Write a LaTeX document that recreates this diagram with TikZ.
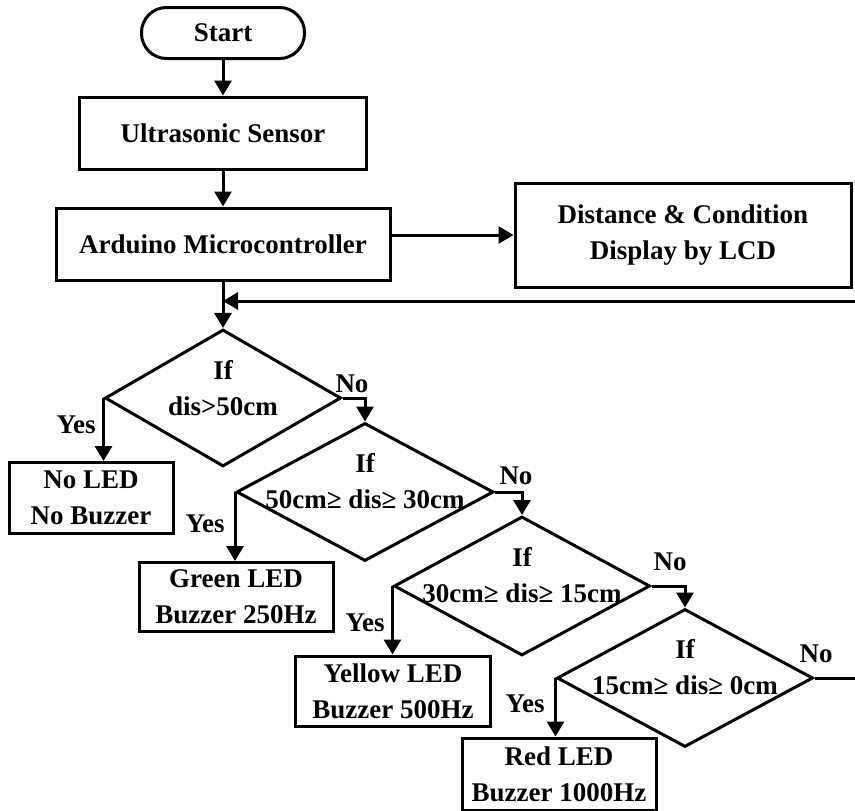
\documentclass[tikz,border=0pt]{standalone}
\usepackage{fontspec}
\setmainfont{Liberation Serif}
\usetikzlibrary{arrows.meta,shapes.geometric}

\begin{document}
\begin{tikzpicture}[x=1pt,y=-1pt,
    every node/.style={font=\fontsize{27}{36}\selectfont\bfseries},
    proc/.style={draw,line width=3pt,rectangle,align=center,inner sep=0pt},
    term/.style={proc,rounded corners=25pt},
    dec/.style={draw,line width=3pt,diamond,inner sep=0pt},
    dtext/.style={align=center,inner sep=0pt},
    arr/.style={line width=3pt,-{Triangle[length=15pt,width=17pt]}},
    lin/.style={line width=3pt}]
    \useasboundingbox (0,0) rectangle (855,811);

    % bloques de arriba
    \node[term,minimum width=163pt,minimum height=51pt] (start) at (223,33) {Start};
    \node[proc,minimum width=287pt,minimum height=72pt] (sensor) at (223,133) {Ultrasonic Sensor};
    \node[proc,minimum width=334pt,minimum height=72pt] (ard) at (223,244) {Arduino Microcontroller};
    \node[proc,minimum width=336pt,minimum height=104pt] (lcd) at (683,235) {Distance \& Condition\\Display by LCD};

    % primera decision
    \node[dec,minimum width=236pt,minimum height=137pt] (d1) at (223,398) {};
    \node[dtext] (t1) at ([yshift=10pt]d1.center) {If\\dis>50cm};
    \node[proc,minimum width=164pt,minimum height=71pt] (none) at (91,498) {No LED\\No Buzzer};

    % segunda decision
    \node[dec,minimum width=257pt,minimum height=138pt] (d2) at (365,492) {};
    \node[dtext] (t2) at ([yshift=11pt]d2.center) {If\\50cm≥ dis≥ 30cm};
    \node[proc,minimum width=194pt,minimum height=69pt] (green) at (236,597) {Green LED\\Buzzer 250Hz};

    % tercera decision
    \node[dec,minimum width=256pt,minimum height=139pt] (d3) at (522,586) {};
    \node[dtext] (t3) at ([yshift=11pt]d3.center) {If\\30cm≥ dis≥ 15cm};
    \node[proc,minimum width=195pt,minimum height=70pt] (yellow) at (393,691) {Yellow LED\\Buzzer 500Hz};

    % cuarta decision
    \node[dec,minimum width=256pt,minimum height=138pt] (d4) at (685,678) {};
    \node[dtext] (t4) at ([yshift=11pt]d4.center) {If\\15cm≥ dis≥ 0cm};
    \node[proc,minimum width=194pt,minimum height=72pt] (red) at (559,774) {Red LED\\Buzzer 1000Hz};

    % etiquetas Yes / No
    \node (no1) at (352,384) {No};
    \node (yes1) at (76,425) {Yes};
    \node (no2) at (516,476) {No};
    \node (yes2) at (205,524) {Yes};
    \node (no3) at (670,562) {No};
    \node (yes3) at (365,623) {Yes};
    \node (no4) at (816,654) {No};
    \node (yes4) at (525,704) {Yes};

    % lazo de vuelta
    \coordinate (loopout) at (855,678);
    \coordinate (loopin) at (855,301);

    \draw[arr] (start) -- (sensor);
    \draw[arr] (sensor) -- (ard);
    \draw[arr] (ard) -- (d1);
    \draw[arr] (lcd.west -| ard.east) -- (lcd.west);
    \draw[arr] (loopin) -- (loopin -| ard.south);

    \draw[arr] (d1.west) -- (d1.west |- none.north);
    \draw[arr] (d1.east) -| (d2.north);
    \draw[arr] (d2.west) -- (d2.west |- green.north);
    \draw[arr] (d2.east) -| (d3.north);
    \draw[arr] (d3.west) -- (d3.west |- yellow.north);
    \draw[arr] (d3.east) -| (d4.north);
    \draw[arr] (d4.west) -- (d4.west |- red.north);
    \draw[lin] (d4.east) -- (loopout);
\end{tikzpicture}
\end{document}
